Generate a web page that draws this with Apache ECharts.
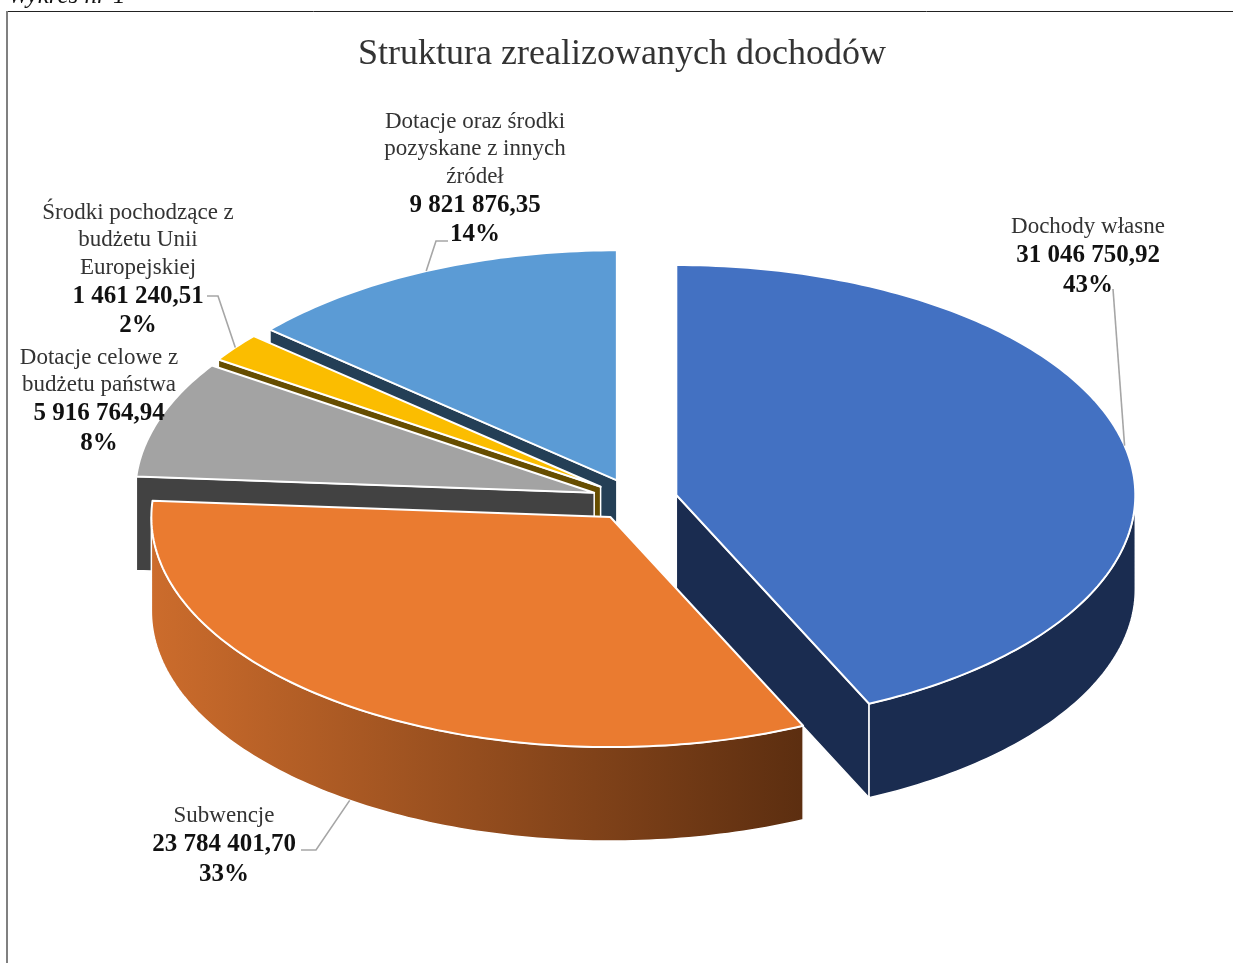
<!DOCTYPE html>
<html>
<head>
<meta charset="utf-8">
<title>Struktura zrealizowanych dochodów</title>
<style>
  html, body { margin: 0; padding: 0; background: #fff; overflow: hidden; }
  #chart { width: 1233px; height: 963px; }
</style>
<script src="https://cdn.jsdelivr.net/npm/echarts@6/dist/echarts.min.js"></script>
</head>
<body>
<div id="chart"></div>
<script>
  const chartTitle = 'Struktura zrealizowanych dochodów'
  const captionText = 'Wykres nr 1'
  const categories = [
    'Dochody własne',
    'Subwencje',
    'Dotacje celowe z\nbudżetu państwa',
    'Środki pochodzące z\nbudżetu Unii\nEuropejskiej',
    'Dotacje oraz środki\npozyskane z innych\nźródeł'
  ]
  const values = [31046750.92, 23784401.70, 5916764.94, 1461240.51, 9821876.35]
  const valueLabels = ['31 046 750,92', '23 784 401,70', '5 916 764,94', '1 461 240,51', '9 821 876,35']
  const percentLabels = ['43%', '33%', '8%', '2%', '14%']

  // kolory i uklad, osobno od danych
  const topColors = ['#4371C2', '#EA7B30', '#A3A3A3', '#FBBD00', '#5B9BD5']
  const sideColors = [
    '#1A2C50',
    new echarts.graphic.LinearGradient(151, 0, 804, 0, [
      {offset: 0, color: '#CC6C2C'},
      {offset: 1, color: '#5C2E10'}
    ], true),
    '#424242',
    '#664D00',
    '#243F56'
  ]
  const wallColors = ['#1A2C50', '#5C2E10', '#424242', '#664D00', '#243F56']
  const drawLayer = [40, 50, 30, 20, 10]
  const labelAnchors = [[1088, 213.5], [224, 802.5], [99, 344], [138, 199], [475, 108]]
  const leaderStarts = [
    [[1113, 289]],
    [[301, 850], [316, 850]],
    [],
    [[207, 296], [218, 296]],
    [[448, 241], [436, 241]]
  ]
  const pie = {cx: 634.6, cy: 499.6, rx: 459, ry: 230, depth: 94, explodeX: 42.7, explodeY: 21.2}

  const total = values.reduce((a, b) => a + b, 0)
  const toRad = Math.PI / 180

  function rimPoint(apex, deg, drop) {
    return [
      apex[0] + pie.rx * Math.sin(deg * toRad),
      apex[1] - pie.ry * Math.cos(deg * toRad) + drop
    ]
  }

  function arcPoints(apex, from, to, drop) {
    const pts = []
    const steps = Math.max(2, Math.ceil(Math.abs(to - from)))
    for (let i = 0; i <= steps; i++) {
      pts.push(rimPoint(apex, from + (to - from) * i / steps, drop))
    }
    return pts
  }

  function polygon(points, fill, strokeWidth, z2) {
    return {
      type: 'polygon',
      z2: z2,
      shape: {points: points},
      style: {fill: fill, stroke: '#fff', lineWidth: strokeWidth, lineJoin: 'round'}
    }
  }

  function wall(apex, deg, fill, z2) {
    const rim = rimPoint(apex, deg, 0)
    return polygon([
      apex, rim,
      [rim[0], rim[1] + pie.depth],
      [apex[0], apex[1] + pie.depth]
    ], fill, 1.5, z2)
  }

  function renderSlice(params, api) {
    const i = api.value(0)
    const before = values.slice(0, i).reduce((a, b) => a + b, 0)
    const start = before / total * 360
    const end = (before + api.value(1)) / total * 360
    const mid = (start + end) / 2
    const apex = [
      pie.cx + pie.explodeX * Math.sin(mid * toRad),
      pie.cy - pie.explodeY * Math.cos(mid * toRad)
    ]
    const z = drawLayer[i]
    const children = []

    if (Math.sin(start * toRad) < -0.001) children.push(wall(apex, start, wallColors[i], z))
    if (Math.sin(end * toRad) > 0.001) children.push(wall(apex, end, wallColors[i], z))

    const rimFrom = Math.max(start, 90)
    const rimTo = Math.min(end, 270)
    if (rimFrom < rimTo) {
      const upper = arcPoints(apex, rimFrom, rimTo, 0)
      const lower = arcPoints(apex, rimTo, rimFrom, pie.depth)
      children.push(polygon(upper.concat(lower), sideColors[i], 1.5, z))
    }

    children.push(polygon([apex].concat(arcPoints(apex, start, end, 0)), topColors[i], 2, z + 1))

    // linia odniesienia konczy sie na krawedzi wycinka
    if (leaderStarts[i].length) {
      const drop = mid > 90 && mid < 270 ? pie.depth : 0
      children.push({
        type: 'polyline',
        z2: 60,
        shape: {points: leaderStarts[i].concat([rimPoint(apex, mid, drop)])},
        style: {fill: null, stroke: '#A6A6A6', lineWidth: 1.6}
      })
    }

    children.push({
      type: 'text',
      z2: 70,
      x: labelAnchors[i][0],
      y: labelAnchors[i][1],
      style: {
        text: categories[i].split('\n').map(t => '{n|' + t + '}').join('\n') +
          '\n{v|' + valueLabels[i] + '}\n{v|' + percentLabels[i] + '}',
        align: 'center',
        verticalAlign: 'top',
        rich: {
          n: {font: '23px "Liberation Serif"', fill: '#333', lineHeight: 27.5},
          v: {font: 'bold 25px "Liberation Serif"', fill: '#111', lineHeight: 29.5}
        }
      }
    })

    return {type: 'group', children: children}
  }

  const chart = echarts.init(document.getElementById('chart'), null, {renderer: 'canvas'})
  chart.setOption({
    animation: false,
    backgroundColor: '#fff',
    title: {
      text: chartTitle,
      left: 617,
      top: 32,
      textAlign: 'center',
      textStyle: {fontFamily: 'Liberation Serif', fontSize: 36, fontWeight: 'normal', color: '#333'}
    },
    graphic: [
      {
        type: 'text',
        x: 8,
        y: -16,
        style: {text: captionText, font: 'italic 25px "Liberation Serif"', fill: '#111'}
      },
      {type: 'line', shape: {x1: 7, y1: 11.5, x2: 1233, y2: 11.5}, style: {stroke: '#222', lineWidth: 1}},
      {type: 'line', shape: {x1: 7, y1: 11, x2: 7, y2: 963}, style: {stroke: '#808080', lineWidth: 2}}
    ],
    series: [{
      type: 'custom',
      coordinateSystem: 'none',
      silent: true,
      clip: false,
      renderItem: renderSlice,
      data: values.map((v, i) => [i, v])
    }]
  })
</script>
</body>
</html>
